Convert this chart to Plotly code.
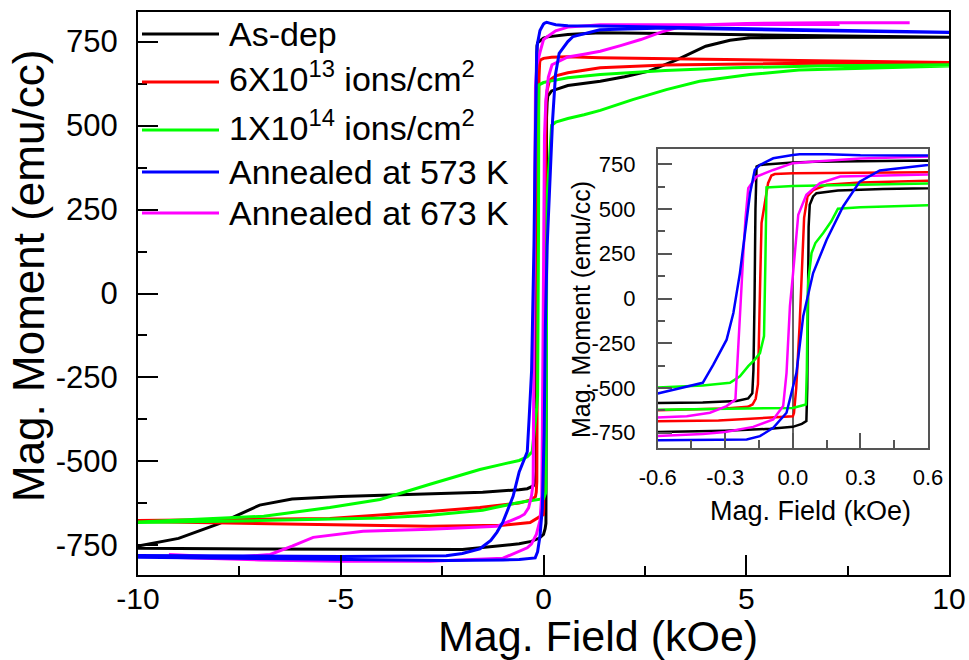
import plotly.graph_objects as go

# ---------------- data (field in kOe, moment in emu/cc) ----------------
series_names = ["As-dep", "6X10<sup>13</sup> ions/cm<sup>2</sup>", "1X10<sup>14</sup> ions/cm<sup>2</sup>",
                "Annealed at 573 K", "Annealed at 673 K"]
series_colors = ["#000000", "#ff0000", "#00ff00", "#0000ff", "#ff00ff"]

asdep_h_desc = [10, 7, 5, 3, 1.4, 0.6, 0.3, 0.1, 0, -0.1, -0.146, -0.161, -0.166, -0.17, -0.175, -0.18, -0.198,
                -0.25, -0.4, -0.6, -1.5, -3, -5, -6.2, -7, -8, -9, -10]
asdep_m_desc = [763, 766, 770, 774, 776, 771, 768, 764, 760, 752, 746, 737, 500, 0, -400, -530, -558,
                -573, -581, -584, -592, -598, -604, -612, -630, -685, -729, -752]
asdep_h_asc = [-10, -8, -5, -2, -0.6, -0.3, -0.1, 0, 0.04, 0.06, 0.064, 0.067, 0.07, 0.075, 0.09, 0.105,
               0.2, 0.4, 0.6, 1.4, 2.0, 2.6, 3.3, 4.0, 4.6, 5.1, 7, 10]
asdep_m_asc = [-758, -760, -762, -762, -745, -738, -728, -717, -700, -684, -500, 0, 400, 523, 570, 588,
               603, 612, 619, 632, 645, 662, 696, 736, 754, 761, 763, 763]

ion13_h_desc = [10, 7, 4, 1.4, 0.6, 0.2, 0, -0.08, -0.095, -0.11, -0.125, -0.139, -0.145, -0.15, -0.155,
                -0.165, -0.179, -0.2, -0.3, -0.6, -1.57, -2.8, -5.27, -7, -10]
ion13_m_desc = [688, 692, 697, 702, 705, 703, 700, 695, 687, 644, 540, 421, 100, -300, -480,
                -560, -592, -605, -614, -624, -637, -649, -670, -673, -676]
ion13_h_asc = [-10, -5.27, -2.8, -1.0, -0.33, -0.1, 0, 0.005, 0.015, 0.03, 0.04, 0.05, 0.065, 0.09, 0.15,
               0.3, 0.6, 1.4, 3, 6, 10]
ion13_m_asc = [-679, -688, -693, -690, -682, -665, -658, -640, -500, -150, 200, 450, 570, 605, 635,
               648, 657, 672, 680, 685, 687]

ion14_h_desc = [10, 7, 4.7, 3, 1.4, 0.6, 0.2, 0, -0.1, -0.117, -0.122, -0.128, -0.146, -0.168, -0.198,
                -0.235, -0.279, -0.4, -0.6, -1.0, -1.57, -2.8, -4.03, -5.27, -6.9, -10]
ion14_m_desc = [681, 678, 672, 664, 652, 642, 633, 628, 622, 620, 200, -210, -305, -340, -378,
                -434, -471, -486, -497, -508, -524, -568, -613, -637, -663, -680]
ion14_h_asc = [-10, -7, -4, -2.8, -1.5, -0.6, -0.3, 0, 0.058, 0.062, 0.066, 0.069, 0.083, 0.1, 0.134,
               0.17, 0.2, 0.3, 0.6, 1.0, 1.4, 2.2, 3.03, 3.85, 5.09, 6.3, 10]
ion14_m_asc = [-682, -676, -668, -660, -645, -622, -616, -611, -592, -400, 0, 105, 254, 310, 365,
               430, 501, 510, 521, 532, 545, 577, 607, 632, 652, 665, 677]

a573_h_desc = [10, 7, 4, 1.4, 0.6, 0.3, 0.15, 0.08, 0.03, 0, -0.087, -0.146, -0.169, -0.19, -0.213,
               -0.235, -0.264, -0.294, -0.353, -0.4, -0.6, -0.75, -1.0, -1.15, -1.3, -1.57, -2.0, -2.4,
               -5, -8, -10]
a573_m_desc = [778, 785, 791, 796, 797, 800, 805, 807, 805, 802, 783, 746, 718, 588, 365,
               142, -81, -230, -369, -471, -531, -604, -680, -711, -735, -760, -774, -781,
               -783, -781, -780]
a573_h_asc = [-10, -5, -2.4, -1.0, -0.6, -0.205, -0.146, -0.087, -0.028, 0.016, 0.046, 0.09, 0.15,
              0.223, 0.297, 0.386, 0.6, 0.73, 1.39, 3, 6, 10]
a573_m_asc = [-785, -792, -795, -793, -792, -787, -769, -722, -638, -415, -99, 142, 328,
              514, 653, 715, 750, 765, 785, 790, 784, 777]

a673_h_desc = [7.3, 5, 3, 1.4, 0.6, 0.3, 0.1, 0, -0.087, -0.161, -0.198, -0.21, -0.22, -0.23, -0.24,
               -0.25, -0.255, -0.294, -0.368, -0.471, -0.6, -1.15, -2.8, -4.45, -5.68, -6.2, -6.74,
               -7.73, -9.2]
a673_m_desc = [801, 801, 801, 800, 793, 782, 765, 756, 718, 681, 616, 450, 250, 0, -250,
               -450, -564, -601, -638, -657, -666, -693, -702, -708, -726, -752, -777,
               -786, -777]
a673_h_asc = [-9.2, -7, -5, -2.8, -1.0, -0.6, -0.4, -0.3, -0.176, -0.087, -0.043, -0.028, -0.013, 0.001,
              0.024, 0.06, 0.12, 0.21, 0.6, 1.0, 1.4, 1.9, 2.4, 2.9, 3.3, 4, 5, 7, 9.03]
a673_m_asc = [-785, -793, -797, -797, -788, -768, -757, -746, -717, -676, -601, -415, -44, 142,
              467, 579, 644, 681, 704, 712, 721, 738, 756, 778, 792, 800, 804, 806, 806]

main_x_ticks = [-10, -5, 0, 5, 10]
main_x_labels = ["-10", "-5", "0", "5", "10"]
moment_ticks = [-750, -500, -250, 0, 250, 500, 750]
moment_labels = ["-750", "-500", "-250", "0", "250", "500", "750"]
inset_x_ticks = [-0.6, -0.3, 0, 0.3, 0.6]
inset_x_labels = ["-0.6", "-0.3", "0.0", "0.3", "0.6"]
field_title = "Mag. Field (kOe)"
moment_title = "Mag. Moment (emu/cc)"

loops = [
    (asdep_h_desc, asdep_m_desc, asdep_h_asc, asdep_m_asc),
    (ion13_h_desc, ion13_m_desc, ion13_h_asc, ion13_m_asc),
    (ion14_h_desc, ion14_m_desc, ion14_h_asc, ion14_m_asc),
    (a573_h_desc, a573_m_desc, a573_h_asc, a573_m_asc),
    (a673_h_desc, a673_m_desc, a673_h_asc, a673_m_asc),
]
draw_order = [0, 1, 2, 4, 3]

FONT = "Liberation Sans, Arial, Helvetica, sans-serif"
W, H = 969, 660
L, R, T, B = 138, 20, 12, 85
PW, PH = W - L - R, H - T - B


def px_x(px):
    return (px - L) / PW


def px_y(py):
    return (H - B - py) / PH


fig = go.Figure()

for i in draw_order:
    hd, md, ha, ma = loops[i]
    fig.add_trace(go.Scatter(x=hd + ha, y=md + ma, mode="lines", name=series_names[i],
                             line=dict(color=series_colors[i], width=3),
                             xaxis="x", yaxis="y", showlegend=False))
for i in draw_order:
    hd, md, ha, ma = loops[i]
    fig.add_trace(go.Scatter(x=hd + ha, y=md + ma, mode="lines", name=series_names[i],
                             line=dict(color=series_colors[i], width=2.5),
                             xaxis="x2", yaxis="y2", showlegend=False))

# legend (drawn manually to match the long legend lines)
legend_rows = [34, 82, 130, 172, 213]
shapes = []
annotations = []
for i, ry in enumerate(legend_rows):
    shapes.append(dict(type="line", xref="paper", yref="paper",
                       x0=px_x(142), x1=px_x(219), y0=px_y(ry), y1=px_y(ry),
                       line=dict(color=series_colors[i], width=3)))
    annotations.append(dict(xref="paper", yref="paper", x=px_x(227), y=px_y(ry),
                            xanchor="left", yanchor="middle", showarrow=False,
                            text=series_names[i], font=dict(family=FONT, size=34, color="black"),
                            yshift=(5 if "sup" in series_names[i] else 0)))

# axis titles (placed as in the reference)
title_specs = [
    (field_title, 598, 636, 0, 43),
    (moment_title, 28, 276, -90, 44),
    (field_title, 810, 511, 0, 27),
    (moment_title, 581, 310, -90, 25),
]
for txt, tx, ty, ang, fs in title_specs:
    annotations.append(dict(xref="paper", yref="paper", x=px_x(tx), y=px_y(ty),
                            xanchor="center", yanchor="middle", showarrow=False,
                            text=txt, textangle=ang, font=dict(family=FONT, size=fs, color="black")))

main_axis_common = dict(showline=True, linecolor="black", linewidth=2, mirror=True,
                        ticks="inside", ticklen=20, tickwidth=2, tickcolor="black",
                        showgrid=False, zeroline=False, tickmode="array")

fig.update_layout(
    width=W, height=H,
    margin=dict(l=L, r=R, t=T, b=B, autoexpand=False),
    paper_bgcolor="white", plot_bgcolor="white",
    font=dict(family=FONT, color="black"),
    xaxis=dict(range=[-10, 10], domain=[0, 1], anchor="y",
               tickvals=main_x_ticks, ticktext=main_x_labels,
               tickfont=dict(size=30), ticklabelstandoff=-4,
               minor=dict(ticks="inside", ticklen=9, tickwidth=2, tickcolor="black", dtick=2.5, tick0=0),
               **main_axis_common),
    yaxis=dict(range=[-838, 838], domain=[0, 1], anchor="x",
               tickvals=moment_ticks, ticktext=moment_labels,
               tickfont=dict(size=31), ticklabelstandoff=12,
               minor=dict(ticks="inside", ticklen=9, tickwidth=2, tickcolor="black", dtick=125, tick0=0),
               **main_axis_common),
    xaxis2=dict(range=[-0.6, 0.6], domain=[px_x(657.7), px_x(928)], anchor="y2",
                showline=True, linecolor="#555555", linewidth=1.5, mirror=True,
                ticks="inside", ticklen=15, tickwidth=1.5, tickcolor="#555555",
                tickmode="array", tickvals=inset_x_ticks, ticktext=inset_x_labels,
                minor=dict(ticks="inside", ticklen=8, tickwidth=1.5, tickcolor="#555555", dtick=0.15, tick0=0),
                tickfont=dict(size=22), ticklabelstandoff=9,
                showgrid=False, zeroline=True, zerolinecolor="#666666", zerolinewidth=1.5),
    yaxis2=dict(range=[-835, 835], domain=[px_y(448), px_y(149)], anchor="x2",
                showline=True, linecolor="#555555", linewidth=1.5, mirror=True,
                ticks="inside", ticklen=15, tickwidth=1.5, tickcolor="#555555",
                tickmode="array", tickvals=moment_ticks, ticktext=moment_labels,
                minor=dict(ticks="inside", ticklen=8, tickwidth=1.5, tickcolor="#555555", dtick=125, tick0=0),
                tickfont=dict(size=22), ticklabelstandoff=16,
                showgrid=False, zeroline=False),
    shapes=shapes,
    annotations=annotations,
)

fig.write_html("out.html", config={"displayModeBar": False},
               post_script="document.body.style.margin='0px';")
